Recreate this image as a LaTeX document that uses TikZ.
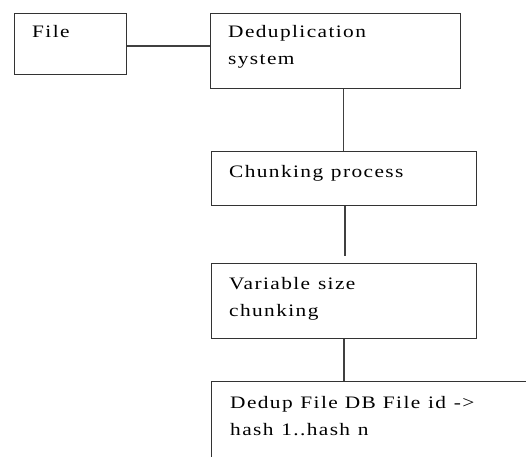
\documentclass[tikz,border=0pt]{standalone}
\usepackage{fontspec}
\setmainfont[FakeStretch=1.22,LetterSpace=8,WordSpace=1.15]{Liberation Serif}
\begin{document}
\begin{tikzpicture}[x=1pt,y=-1pt,
  box/.style={draw=black!80, line width=1.2pt, inner sep=0pt, anchor=north west},
  wire/.style={draw=black!75, line width=1.3pt},
  txt/.style={anchor=north west, inner sep=0pt, font=\fontsize{17.5}{27}\selectfont, align=left}]
  \useasboundingbox (0,0) rectangle (526,456);
  \clip (0,0) rectangle (526,456);
  % boxes
  \node[box, minimum width=112, minimum height=61] (file) at (14,13) {};
  \node[box, minimum width=250, minimum height=75] (dedup) at (210,13) {};
  \node[box, minimum width=265, minimum height=54] (chunk) at (211,151) {};
  \node[box, minimum width=265, minimum height=75] (var) at (211,263) {};
  \node[box, minimum width=340, minimum height=120] (db) at (211,381) {};
  % labels (top of text sits about 12pt above the first baseline)
  \node[txt] (fileT) at ([xshift=18, yshift=-12]file.north west) {File};
  \node[txt] (dedupT) at ([xshift=18, yshift=-12]dedup.north west) {Deduplication\\system};
  \node[txt] (chunkT) at ([xshift=18, yshift=-14]chunk.north west) {Chunking process};
  \node[txt] (varT) at ([xshift=18, yshift=-14]var.north west) {Variable\hspace{0.45em}size\\chunking};
  \node[txt] (dbT) at ([xshift=19, yshift=-15]db.north west) {Dedup File\hspace{0.4em}DB\hspace{0.4em}File id ->\\hash 1..hash n};
  % connectors
  \coordinate (chunkEnd) at ([xshift=134, yshift=7]var.north west);
  \draw[wire] (file.east |- 0,46) -- (dedup.west |- 0,46);
  \draw[wire] ([xshift=133.5]dedup.south west) -- ([xshift=132.5]chunk.north west);
  \draw[wire] ([xshift=134]chunk.south west) -- (chunkEnd);
  \draw[wire] ([xshift=133]var.south west) -- ([xshift=133]db.north west);
\end{tikzpicture}
\end{document}
